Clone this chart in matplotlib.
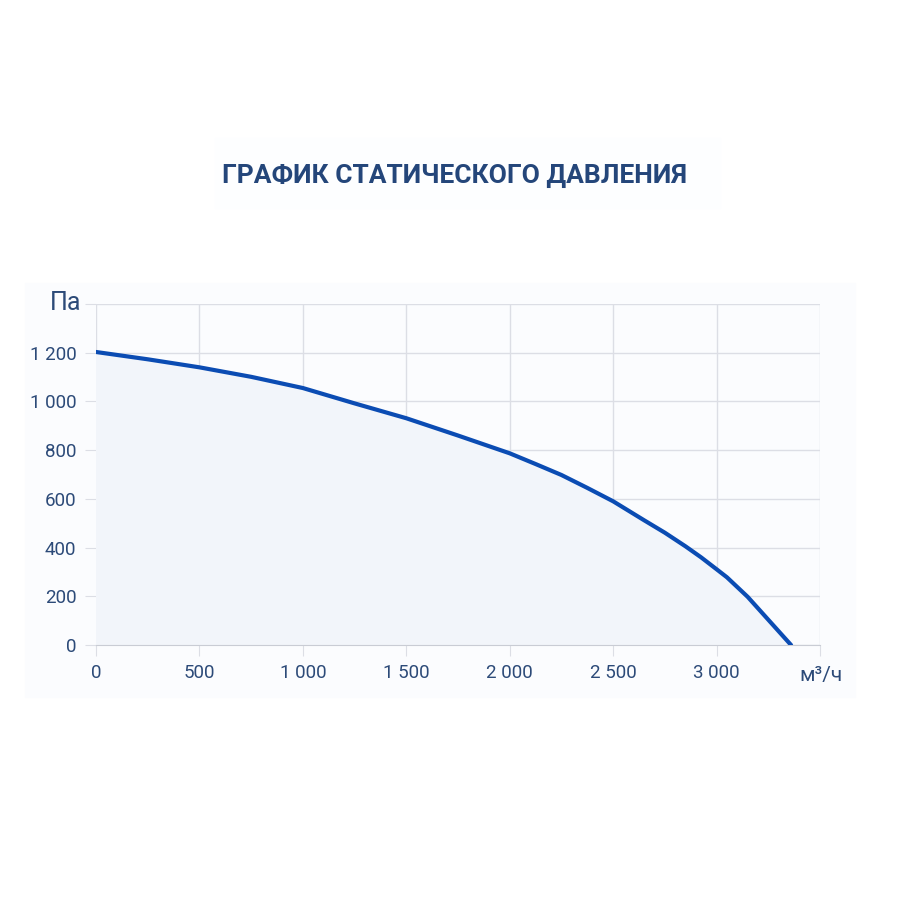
import matplotlib.pyplot as plt
import matplotlib as mpl
from matplotlib.patches import Rectangle

mpl.use('Agg')

plt.rcParams['font.family'] = ['Roboto', 'DejaVu Sans']

# performance curve
flow = [0, 250, 500, 750, 1000, 1250, 1500, 1750, 2000, 2125, 2250, 2375, 2500,
        2650, 2750, 2850, 2925, 3000, 3050, 3100, 3150, 3360]
pressure = [1203, 1173, 1140, 1101, 1055, 992, 931, 860, 787, 743, 698, 645, 590,
            512, 461, 405, 360, 311, 278, 238, 198, 0]

x_ticks = [0, 500, 1000, 1500, 2000, 2500, 3000, 3500]
x_labels = ['0', '500', '1 000', '1 500', '2 000', '2 500', '3 000', '']
y_ticks = [0, 200, 400, 600, 800, 1000, 1200, 1400]
y_labels = ['0', '200', '400', '600', '800', '1 000', '1 200', '']

title = 'ГРАФИК СТАТИЧЕСКОГО ДАВЛЕНИЯ'
y_unit = 'Па'
x_unit = 'м³/ч'

text_col = '#2c4a78'
title_col = '#24467a'
line_col = '#0b4cb3'
grid_col = '#dcdee5'

fig = plt.figure(figsize=(9, 9), dpi=100)
fig.patch.set_facecolor('white')

# faint background panels
fig.patches.append(Rectangle((25 / 900, 1 - 697 / 900), 830 / 900, 414 / 900,
                             transform=fig.transFigure, color='#fbfcfe', zorder=-5))
fig.patches.append(Rectangle((215 / 900, 1 - 208 / 900), 505 / 900, 70 / 900,
                             transform=fig.transFigure, color='#fdfeff', zorder=-5))

ax = fig.add_axes([96 / 900, 1 - 645 / 900, 724 / 900, 341 / 900])
ax.set_zorder(2)
ax.set_facecolor('none')

ax.fill_between(flow, pressure, 0, color='#f2f5fa', zorder=1)
ax.plot(flow, pressure, color=line_col, lw=3, solid_capstyle='round',
        solid_joinstyle='round', zorder=3)

ax.set_xlim(0, 3500)
ax.set_ylim(0, 1400)
ax.set_xticks(x_ticks)
ax.set_xticklabels(x_labels)
ax.set_yticks(y_ticks)
ax.set_yticklabels(y_labels)
ax.grid(True, color=grid_col, lw=1, zorder=0)
ax.set_axisbelow(True)
for s in ax.spines.values():
    s.set_visible(False)
ax.spines['bottom'].set_visible(True)
ax.spines['bottom'].set_color('#c9ccd4')
ax.tick_params(axis='both', length=8, color=grid_col, labelcolor=text_col,
               labelsize=13.5, pad=6)

fig.text(455 / 900, 1 - 176 / 900, title, ha='center', va='center',
         fontsize=19, fontweight='bold', color=title_col)
fig.text(66 / 900, 1 - 303 / 900, y_unit, ha='center', va='center',
         fontsize=18, color=text_col)
fig.text(821 / 900, 1 - 676 / 900, x_unit, ha='center', va='center',
         fontsize=15, color=text_col)

fig.savefig('out.png', dpi=100, facecolor='white')
